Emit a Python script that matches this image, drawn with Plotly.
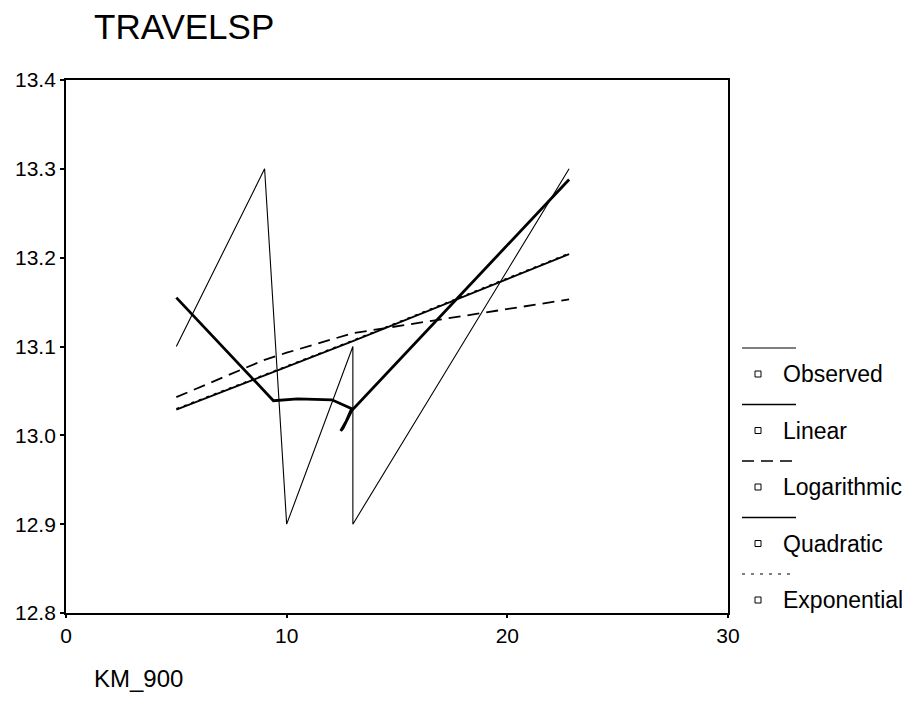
import plotly.graph_objects as go

# ---- data ----
obs_x = [5, 9, 10, 13, 13, 22.8]
obs_y = [13.10, 13.30, 12.90, 13.10, 12.90, 13.30]

fit_x = [5, 9, 10, 13, 22.8]
linear_y = [13.029, 13.068, 13.077, 13.106, 13.204]
log_y = [13.043, 13.085, 13.093, 13.115, 13.153]
expo_y = [13.030, 13.068, 13.078, 13.107, 13.205]

quad_x = [5, 9.4, 10.5, 12.05, 12.95, 12.7, 12.45, 12.55, 12.95, 22.8]
quad_y = [13.155, 13.039, 13.041, 13.040, 13.030, 13.016, 13.005, 13.008, 13.028, 13.288]

x_ticks = [0, 10, 20, 30]
y_ticks = [12.8, 12.9, 13.0, 13.1, 13.2, 13.3, 13.4]

legend_names = ["Observed", "Linear", "Logarithmic", "Quadratic", "Exponential"]
legend_dash = ["solid", "solid", "12px,7px", "solid", "3px,6px"]
legend_width = [1.2, 1.6, 1.6, 1.6, 1.2]

FONT = "Liberation Sans, Arial, sans-serif"

fig = go.Figure()
fig.add_trace(go.Scatter(x=obs_x, y=obs_y, mode="lines",
                         line=dict(color="black", width=1.1), name="Observed"))
fig.add_trace(go.Scatter(x=fit_x, y=expo_y, mode="lines",
                         line=dict(color="black", width=1.2, dash="3px,5px"), name="Exponential"))
fig.add_trace(go.Scatter(x=fit_x, y=linear_y, mode="lines",
                         line=dict(color="black", width=1.8), name="Linear"))
fig.add_trace(go.Scatter(x=fit_x, y=log_y, mode="lines",
                         line=dict(color="black", width=1.8, dash="12px,7px"), name="Logarithmic"))
fig.add_trace(go.Scatter(x=quad_x, y=quad_y, mode="lines",
                         line=dict(color="black", width=2.8), name="Quadratic"))

# plot area in page pixels (page body has an 8px offset)
OFF = 8
L, R, T, B = 66, 728, 80, 613
W, H = 910, 720


def px(xp):
    return (xp - L) / (R - L)


def py(yp):
    return (B - yp) / (B - T)


shapes = []
annotations = []
for i, name in enumerate(legend_names):
    ly = 348 + i * 56.5
    ty = ly + 26
    shapes.append(dict(type="line", xref="paper", yref="paper",
                       x0=px(742), x1=px(796), y0=py(ly), y1=py(ly),
                       line=dict(color="black", width=legend_width[i], dash=legend_dash[i])))
    shapes.append(dict(type="rect", xref="paper", yref="paper",
                       x0=px(755), x1=px(761), y0=py(ty - 3), y1=py(ty + 3),
                       line=dict(color="black", width=1), fillcolor="white"))
    annotations.append(dict(text=name, xref="paper", yref="paper",
                            x=px(781), y=py(ty), xanchor="left", yanchor="middle",
                            showarrow=False, font=dict(family=FONT, size=23, color="black")))

annotations.append(dict(text="TRAVELSP", xref="paper", yref="paper",
                        x=px(92), y=py(26), xanchor="left", yanchor="middle",
                        showarrow=False, font=dict(family=FONT, size=35, color="black")))
annotations.append(dict(text="KM_900", xref="paper", yref="paper",
                        x=px(92), y=py(678), xanchor="left", yanchor="middle",
                        showarrow=False, font=dict(family=FONT, size=24, color="black")))

fig.update_layout(
    width=W, height=H,
    margin=dict(l=L - OFF, r=W - R + OFF, t=T - OFF, b=H - B + OFF, pad=0, autoexpand=False),
    paper_bgcolor="white", plot_bgcolor="white",
    showlegend=False,
    shapes=shapes, annotations=annotations,
    font=dict(family=FONT, color="black"),
)
fig.update_xaxes(range=[0, 30], tickvals=x_ticks, ticktext=[str(v) for v in x_ticks],
                 automargin=False,
                 showgrid=False, zeroline=False, showline=True, linecolor="black", linewidth=1.8,
                 mirror=True, ticks="outside", ticklen=3, tickwidth=1.5, tickcolor="black",
                 ticklabelstandoff=0,
                 tickfont=dict(family=FONT, size=21, color="black"))
fig.update_yaxes(range=[12.8, 13.4], tickvals=y_ticks, ticktext=[f"{v:.1f}" for v in y_ticks],
                 automargin=False,
                 showgrid=False, zeroline=False, showline=True, linecolor="black", linewidth=1.8,
                 mirror=True, ticks="outside", ticklen=4, tickwidth=1.5, tickcolor="black",
                 ticklabelstandoff=0,
                 tickfont=dict(family=FONT, size=21, color="black"))

fig.write_html("out.html")
